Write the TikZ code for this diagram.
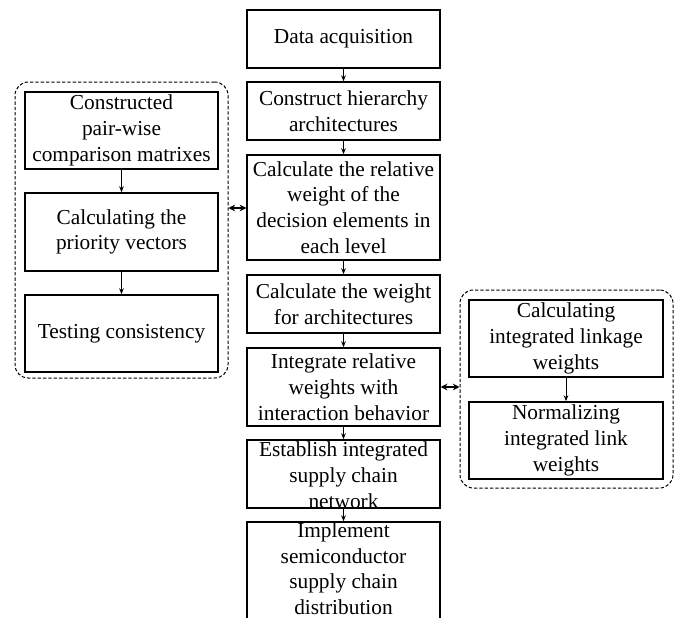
\documentclass[tikz,border=0pt]{standalone}
\usepackage{fontspec}
\setmainfont{Liberation Serif}
\usetikzlibrary{arrows.meta}
\begin{document}
\begin{tikzpicture}[x=0.75pt,y=-0.75pt,
  box/.style={draw, line width=1.1pt, rectangle, inner sep=0pt, minimum width=#1},
  box/.default=193*0.75pt,
  txt/.style={align=center, inner sep=0pt, font=\fontsize{16}{19.3}\selectfont},
  group/.style={draw, dash pattern=on 2.5pt off 1.5pt, line width=0.75pt, rounded corners=10},
  flow/.style={-{Stealth[length=4.5pt,width=3.5pt]}, line width=0.75pt},
  link/.style={{Stealth[length=5pt,width=5pt]}-{Stealth[length=5pt,width=5pt]}, line width=1pt}]
\useasboundingbox (0,0) rectangle (679,618);
\clip (0,0) rectangle (679,618);

% main column
\node[box, minimum height=58*0.75pt] (m1) at (343.5,39) {};
\node[txt] (m1t) at (m1) {Data acquisition};
\node[box, minimum height=58*0.75pt] (m2) at (343.5,111) {};
\node[txt] (m2t) at (m2) {Construct hierarchy\\architectures};
\node[box, minimum height=105*0.75pt] (m3) at (343.5,207.5) {};
\node[txt] (m3t) at (m3) {Calculate the relative\\weight of the\\decision elements in\\each level};
\node[box, minimum height=58*0.75pt] (m4) at (343.5,304) {};
\node[txt] (m4t) at (m4) {Calculate the weight\\for architectures};
\node[box, minimum height=78*0.75pt] (m5) at (343.5,387) {};
\node[txt] (m5t) at (m5) {Integrate relative\\weights with\\interaction behavior};
\node[box, minimum height=68*0.75pt] (m6) at (343.5,474) {};
\node[txt] (m6t) at ([yshift=-0.75pt]m6) {Establish integrated\\supply chain\\network};
\node[box, minimum height=100*0.75pt] (m7) at (343.5,572) {};
\node[txt] (m7t) at ([yshift=2.5pt]m7) {Implement\\semiconductor\\supply chain\\distribution};

\foreach \a/\b in {m1/m2, m2/m3, m3/m4, m4/m5, m5/m6, m6/m7}
  \draw[flow] (\a.south) -- (\b.north);

% left group
\node[group, minimum width=213*0.75pt, minimum height=296*0.75pt] (lg) at (121.5,230) {};
\node[box, minimum height=77*0.75pt] (l1) at (121.5,130.5) {};
\node[txt] (l1t) at (l1) {Constructed\\pair-wise\\comparison matrixes};
\node[box, minimum height=78*0.75pt] (l2) at (121.5,232) {};
\node[txt] (l2t) at (l2) {Calculating the\\priority vectors};
\node[box, minimum height=77*0.75pt] (l3) at (121.5,333.5) {};
\node[txt] (l3t) at (l3) {Testing consistency};
\draw[flow] (l1.south) -- (l2.north);
\draw[flow] (l2.south) -- (l3.north);

% right group
\node[group, minimum width=213*0.75pt, minimum height=198*0.75pt] (rg) at (566.5,389) {};
\node[box=194*0.75pt, minimum height=77*0.75pt] (r1) at (566,338.5) {};
\node[txt] (r1t) at (r1) {Calculating\\integrated linkage\\weights};
\node[box=194*0.75pt, minimum height=77*0.75pt] (r2) at (566,440.5) {};
\node[txt] (r2t) at (r2) {Normalizing\\integrated link\\weights};
\draw[flow] (r1.south) -- (r2.north);

% links between the groups and the main column
\draw[link] (lg.east |- 0,208) -- (m3.west |- 0,208);
\draw[link] (m5.east |- 0,387) -- (rg.west |- 0,387);
\end{tikzpicture}
\end{document}
